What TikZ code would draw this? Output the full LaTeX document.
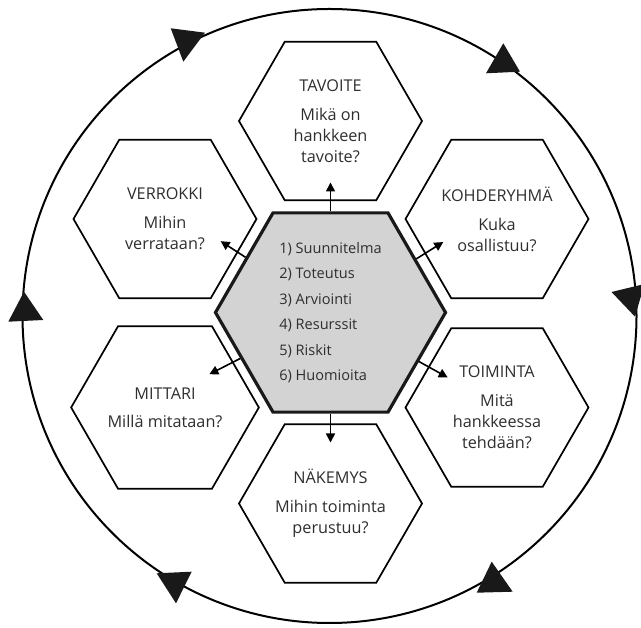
\documentclass[tikz,border=0pt]{standalone}
\usepackage{fontspec}
\setmainfont{Open Sans}
\usetikzlibrary{shapes.geometric,arrows.meta}
\definecolor{txt}{HTML}{2E2E2E}
\definecolor{hexgray}{HTML}{D3D3D3}
\begin{document}
\begin{tikzpicture}[x=1bp,y=1bp,
  hexbox/.style={draw=black, line width=1.7bp, regular polygon, regular polygon sides=6,
    minimum size=183bp, inner sep=0pt, align=center, text=txt,
    font=\fontsize{16.3}{21}\selectfont},
  corebox/.style={draw=black!90, line width=3.2bp, fill=hexgray, regular polygon,
    regular polygon sides=6, minimum size=224bp, inner sep=0pt, align=left, text=txt,
    font=\fontsize{14.6}{25.6}\selectfont},
  link/.style={line width=1.6bp, -{Triangle[length=9bp,width=9bp]}},
  ring/.style={line width=2bp},
  cyc/.style={fill=black!90, draw=none}]
\useasboundingbox (0,0) rectangle (641,628);
% outer cycle
\draw[ring] (329.5,312) circle[radius=307];
\fill[cyc] (170.7,599.7) -- (205,595.3) -- (183.3,566.3) -- cycle;
\fill[cyc] (503.3,584.7) -- (486,554.7) -- (520,556.3) -- cycle;
\fill[cyc] (611.5,336) -- (644.5,344) -- (635,311.3) -- cycle;
\fill[cyc] (491.7,66.3) -- (476.7,35.3) -- (512.7,36.3) -- cycle;
\fill[cyc] (156.7,54.7) -- (191.7,56.3) -- (176,24.7) -- cycle;
\fill[cyc] (24,336.3) -- (8.3,306.3) -- (43.3,308) -- cycle;
% hexagons
\node[corebox] (c) at (330.5,315.5) {1) Suunnitelma\\2) Toteutus\\3) Arviointi\\4) Resurssit\\5) Riskit\\6) Huomioita};
\node[hexbox] (tav) at (330.5,507) {TAVOITE\\[8bp]Mikä on\\hankkeen\\tavoite?};
\node[hexbox] (nak) at (330.5,124.5) {NÄKEMYS\\[8bp]Mihin toiminta\\perustuu?};
\node[hexbox] (ver) at (165,409) {VERROKKI\\[8bp]Mihin\\verrataan?};
\node[hexbox] (mit) at (165,220.5) {MITTARI\\[7bp]Millä mitataan?};
\node[hexbox] (koh) at (497,409) {KOHDERYHMÄ\\[8bp]Kuka\\osallistuu?};
\node[hexbox] (toi) at (497,220.5) {TOIMINTA\\[8bp]Mitä\\hankkeessa\\tehdään?};
% arrow tips
\coordinate (ttav) at ([shift={(90:130)}]c.center);
\coordinate (tnak) at ([shift={(-90:130)}]c.center);
\coordinate (tver) at ([shift={(147:131)}]c.center);
\coordinate (tkoh) at ([shift={(32:133)}]c.center);
\coordinate (tmit) at ([shift={(207:136)}]c.center);
\coordinate (ttoi) at ([shift={(-29:134)}]c.center);
\draw[link] (c.90) -- (ttav);
\draw[link] (c.-90) -- (tnak);
\draw[link] (c.147) -- (tver);
\draw[link] (c.32) -- (tkoh);
\draw[link] (c.207) -- (tmit);
\draw[link] (c.-29) -- (ttoi);
\end{tikzpicture}
\end{document}
